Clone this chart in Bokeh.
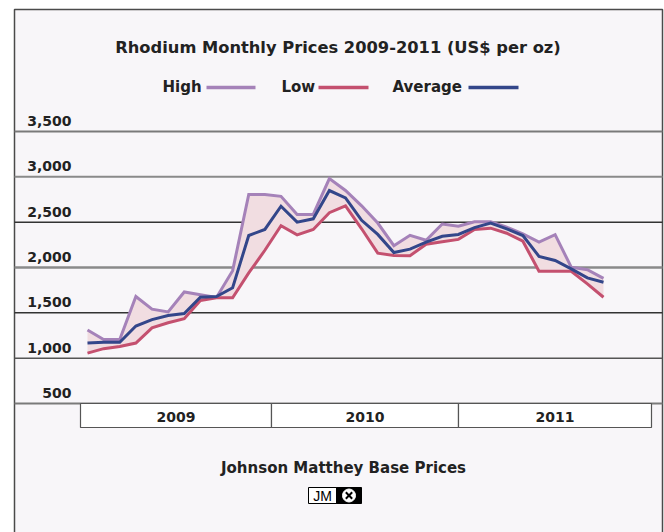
from bokeh.plotting import figure
from bokeh.models import Range1d, ColumnDataSource
from bokeh.core.properties import value
from bokeh.embed import file_html
from bokeh.resources import INLINE

# ---------------- data ----------------
high = [1310, 1205, 1205, 1680, 1540, 1510, 1730, 1700, 1670, 1965, 2805, 2805,
        2785, 2585, 2585, 2980, 2850, 2680, 2490, 2240, 2355, 2300, 2480, 2455,
        2505, 2505, 2445, 2370, 2280, 2362, 2003, 1975, 1880]
average = [1167, 1175, 1176, 1355, 1425, 1470, 1493, 1672, 1680, 1776, 2353, 2420,
           2676, 2500, 2537, 2849, 2768, 2520, 2365, 2165, 2202, 2279, 2345, 2364,
           2440, 2489, 2427, 2353, 2123, 2077, 1985, 1886, 1838]
low = [1056, 1105, 1129, 1167, 1335, 1390, 1436, 1636, 1666, 1666, 1940, 2190,
       2460, 2360, 2420, 2605, 2680, 2427, 2158, 2132, 2130, 2257, 2285, 2310,
       2420, 2434, 2378, 2290, 1959, 1959, 1959, 1820, 1672]
months = list(range(len(high)))
y_ticks = [500, 1000, 1500, 2000, 2500, 3000, 3500]
y_tick_labels = ["500", "1,000", "1,500", "2,000", "2,500", "3,000", "3,500"]
years = ["2009", "2010", "2011"]
title_text = "Rhodium Monthly Prices 2009-2011 (US$ per oz)"
series_names = ["High", "Low", "Average"]
footer_text = "Johnson Matthey Base Prices"

# ---------------- layout helpers (screen pixels -> data units) ----------------
X0, DX = 87.0, 16.125
Y0, DY = 403.0, 272.0 / 3000.0


def fx(px):
    return (px - X0) / DX


def fy(py):
    return 500 + (Y0 - py) / DY


W, H = 664, 532
p = figure(width=W, height=H, output_backend="svg", toolbar_location=None,
           x_range=Range1d(fx(0), fx(W)), y_range=Range1d(fy(H), fy(0)),
           min_border=0, background_fill_color="white", border_fill_color="white",
           outline_line_color=None)
p.axis.visible = False
p.grid.visible = False

FONT = value("DejaVu Sans")
C_HIGH, C_LOW, C_AVG = "#a582b9", "#c4506f", "#33468a"

# frame
p.quad(left=fx(14), right=fx(662), top=fy(9), bottom=fy(545),
       fill_color="#f8f6f9", line_color="#4a4a4a", line_width=1.5)

# gridlines
grid_colors = ["#7a7a7a", "#555555", "#333333", "#8a8a8a", "#333333", "#8a8a8a", "#7a7a7a"]
grid_widths = [2, 1.5, 1.5, 2.5, 1.5, 2, 2]
p.segment(x0=[fx(14)] * len(y_ticks), x1=[fx(662)] * len(y_ticks), y0=y_ticks, y1=y_ticks,
          line_color=grid_colors, line_width=grid_widths)

# tick labels (centred about 10px above each gridline)
lift = 10.5 / DY
p.text(x=[fx(71)] * len(y_ticks), y=[t + lift for t in y_ticks], text=y_tick_labels,
       text_align="right", text_baseline="middle", text_font=FONT,
       text_font_style="bold", text_font_size="14px", text_color="#222222")

# year boxes
edges = [fx(80), fx(271), fx(458), fx(651)]
p.quad(left=edges[:-1], right=edges[1:], top=[500] * 3, bottom=[fy(427)] * 3,
       fill_color="white", line_color="#555555", line_width=1.2)
p.text(x=[(edges[i] + edges[i + 1]) / 2 for i in range(3)], y=[fy(416)] * 3, text=years,
       text_align="center", text_baseline="middle", text_font=FONT, text_font_style="bold",
       text_font_size="14px", text_color="#222222")

# band + lines
src = ColumnDataSource(dict(x=months, high=high, low=low, avg=average))
p.varea(x="x", y1="low", y2="high", source=src, fill_color="#f1dde1")
p.line(x="x", y="high", source=src, line_color=C_HIGH, line_width=3, line_join="miter")
p.line(x="x", y="low", source=src, line_color=C_LOW, line_width=3, line_join="miter")
p.line(x="x", y="avg", source=src, line_color=C_AVG, line_width=3, line_join="miter")

# title
p.text(x=[fx(337.5)], y=[fy(47)], text=[title_text], text_align="center", text_baseline="middle",
       text_font=FONT, text_font_style="bold", text_font_size="16.3px", text_color="#222222")

# legend
leg_text_x = [162, 281, 392]
leg_line = [(206, 255), (318, 368), (468, 518)]
leg_cols = [C_HIGH, C_LOW, C_AVG]
p.text(x=[fx(v) for v in leg_text_x], y=[fy(86)] * 3, text=series_names, text_align="left",
       text_baseline="middle", text_font=FONT, text_font_style="bold", text_font_size="15px",
       text_color="#222222")
p.segment(x0=[fx(a) for a, b in leg_line], x1=[fx(b) for a, b in leg_line],
          y0=[fy(87)] * 3, y1=[fy(87)] * 3, line_color=leg_cols, line_width=3.5)

# footer
p.text(x=[fx(343)], y=[fy(467)], text=[footer_text], text_align="center", text_baseline="middle",
       text_font=FONT, text_font_style="bold", text_font_size="15px", text_color="#222222")

# JM logo
p.quad(left=[fx(308)], right=[fx(336)], top=[fy(487)], bottom=[fy(503)],
       fill_color="white", line_color="black", line_width=1)
p.quad(left=[fx(336)], right=[fx(361)], top=[fy(487)], bottom=[fy(503)],
       fill_color="black", line_color="black", line_width=1)
p.text(x=[fx(322)], y=[fy(495.5)], text=["JM"], text_align="center", text_baseline="middle",
       text_font=value("Liberation Sans"), text_font_size="14px", text_color="black")
p.scatter(x=[fx(348.5)], y=[fy(495)], marker="circle", size=13, fill_color="white",
          line_color="white")
p.scatter(x=[fx(348.5)], y=[fy(495)], marker="x", size=9, line_color="black", line_width=2)

open("out.html", "w").write(file_html(p, INLINE))
